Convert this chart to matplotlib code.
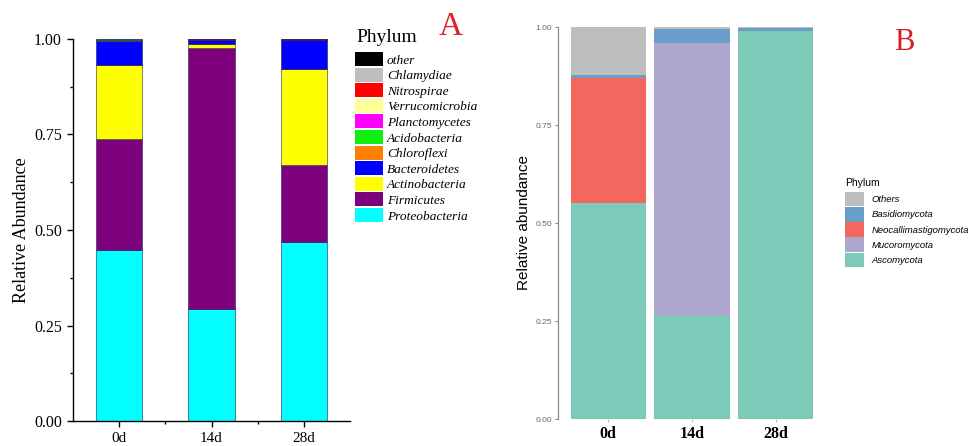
import matplotlib
matplotlib.use("Agg")
from matplotlib import pyplot as plt
from matplotlib.patches import Patch
import numpy as np

# panel A - bacteria
daysA = ["0d", "14d", "28d"]
phylaA = ["Proteobacteria", "Firmicutes", "Actinobacteria", "Bacteroidetes", "Chloroflexi",
          "Acidobacteria", "Planctomycetes", "Verrucomicrobia", "Nitrospirae", "Chlamydiae", "other"]
coloursA = ["#00FFFF", "#7D007D", "#FFFF00", "#0000FF", "#FF7F00",
            "#11EE11", "#FF00FF", "#FFFF99", "#FF0000", "#BEBEBE", "#000000"]
proteo = [0.448, 0.293, 0.469]
firmic = [0.290, 0.683, 0.201]
actino = [0.194, 0.012, 0.251]
bacter = [0.063, 0.009, 0.076]
chloro = [0.001, 0.0005, 0.0005]
acido = [0.001, 0.0005, 0.0005]
plancto = [0.0005, 0.0003, 0.0003]
verru = [0.0005, 0.0003, 0.0003]
nitro = [0.0005, 0.0003, 0.0003]
chlamy = [0.0005, 0.0003, 0.0003]
otherA = [0.001, 0.0013, 0.0013]
valuesA = [proteo, firmic, actino, bacter, chloro, acido, plancto, verru, nitro, chlamy, otherA]

# panel B - fungi
daysB = ["0d", "14d", "28d"]
phylaB = ["Ascomycota", "Mucoromycota", "Neocallimastigomycota", "Basidiomycota", "Others"]
coloursB = ["#7CCAB8", "#ADA7CE", "#F4675E", "#6A9EC8", "#BEBEBE"]
asco = [0.551, 0.263, 0.990]
muco = [0.0, 0.696, 0.0]
neo = [0.319, 0.0, 0.0]
basid = [0.008, 0.036, 0.007]
othersB = [0.122, 0.005, 0.003]
valuesB = [asco, muco, neo, basid, othersB]

serif = "Liberation Serif"
sans = "Liberation Sans"

fig = plt.figure(figsize=(9.72, 4.46), dpi=100)
W, H = 972, 446

# ---- A ----
axA = fig.add_axes([73 / W, 25 / H, 277 / W, 382 / H])
xa = np.arange(len(daysA))
bottom = np.zeros(len(daysA))
for vals, col in zip(valuesA, coloursA):
    axA.bar(xa, vals, 0.5, bottom=bottom, color=col, edgecolor="#22224a", linewidth=0.4)
    bottom += np.array(vals)
axA.set_xlim(-0.5, 2.5)
axA.set_ylim(0, 1)
for s in ["top", "right"]:
    axA.spines[s].set_visible(False)
for s in ["left", "bottom"]:
    axA.spines[s].set_linewidth(1.0)
axA.set_yticks([0, 0.25, 0.5, 0.75, 1.0])
axA.set_yticklabels(["0.00", "0.25", "0.50", "0.75", "1.00"], fontfamily=serif, fontsize=11.5)
axA.set_yticks([0.125, 0.375, 0.625, 0.875], minor=True)
axA.set_xticks(xa)
axA.set_xticklabels(daysA, fontfamily=serif, fontsize=11)
axA.set_xticks([0.5, 1.5], minor=True)
axA.tick_params(which="major", length=4.5, width=1.0, pad=3.5)
axA.tick_params(which="minor", length=2.5, width=1.0)
axA.set_ylabel("Relative Abundance", fontfamily=serif, fontsize=13)
axA.yaxis.set_label_coords(-0.155, 0.5)

handlesA = [Patch(facecolor=c, edgecolor="none") for c in coloursA][::-1]
fig.legend(handlesA, phylaA[::-1], loc="upper left", bbox_to_anchor=(355 / W, 1 - 52 / H),
           frameon=False, borderpad=0, borderaxespad=0, handlelength=2.1, handleheight=1.25,
           labelspacing=0.08, handletextpad=0.3,
           prop={"family": serif, "style": "italic", "size": 9.6})
fig.text(356 / W, 1 - 37 / H, "Phylum", fontfamily=serif, fontsize=14, ha="left", va="center")
fig.text(451 / W, 1 - 27 / H, "A", color="#E0202A", fontfamily=serif, fontsize=24, ha="center", va="center")

# ---- B ----
axB = fig.add_axes([558 / W, 27 / H, 268 / W, 392 / H])
xb = np.arange(len(daysB))
bottom = np.zeros(len(daysB))
for vals, col in zip(valuesB, coloursB):
    axB.bar(xb, vals, 0.9, bottom=bottom, color=col, linewidth=0)
    bottom += np.array(vals)
axB.set_xlim(-0.6, 2.6)
axB.set_ylim(0, 1)
for s in ["top", "right", "bottom"]:
    axB.spines[s].set_visible(False)
axB.spines["left"].set_color("#8a8a8a")
axB.spines["left"].set_linewidth(0.9)
axB.set_yticks([0, 0.25, 0.5, 0.75, 1.0])
axB.set_yticklabels(["0.00", "0.25", "0.50", "0.75", "1.00"], fontfamily=sans, fontsize=6, color="#666666")
axB.set_xticks(xb)
axB.set_xticklabels(daysB, fontfamily=serif, fontsize=11.5, fontweight="bold")
axB.tick_params(axis="y", length=2, width=0.8, color="#8a8a8a", pad=2)
axB.tick_params(axis="x", length=2, width=0.8, color="#bbbbbb", pad=3)
axB.set_ylabel("Relative abundance", fontfamily=sans, fontsize=11)
axB.yaxis.set_label_coords(-0.10, 0.5)

handlesB = [Patch(facecolor=c, edgecolor="none") for c in coloursB][::-1]
fig.legend(handlesB, phylaB[::-1], loc="upper left", bbox_to_anchor=(845 / W, 1 - 192 / H),
           frameon=False, borderpad=0, borderaxespad=0, handlelength=1.96, handleheight=1.97,
           labelspacing=0.08, handletextpad=0.87,
           prop={"family": sans, "style": "italic", "size": 6.8})
fig.text(845 / W, 1 - 183 / H, "Phylum", fontfamily=sans, fontsize=7.5, ha="left", va="center")
fig.text(904 / W, 1 - 42 / H, "B", color="#D42025", fontfamily=serif, fontsize=22, ha="center", va="center")

fig.savefig("out.png", dpi=100)
